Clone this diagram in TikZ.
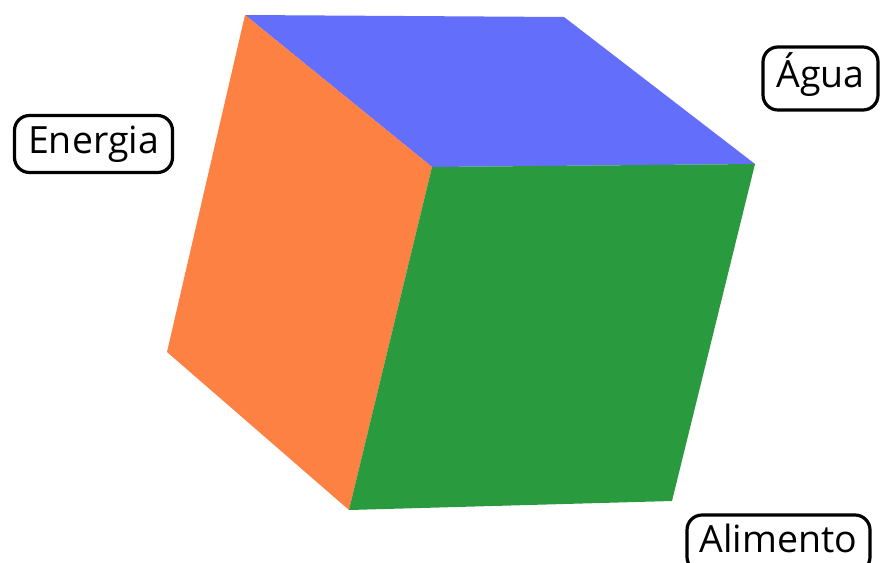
\documentclass[tikz,border=0pt]{standalone}
\usepackage{fontspec}
\setmainfont{Open Sans}
\begin{document}
\begin{tikzpicture}[x=1pt,y=-1pt,
  lbl/.style={draw=black, line width=3.2pt, rounded corners=15pt, inner sep=0pt, text height=27pt, text depth=9pt, font=\fontsize{37.5}{40}\selectfont, text=black}]
\definecolor{topblue}{HTML}{636EFA}
\definecolor{sideorange}{HTML}{FC8142}
\definecolor{frontgreen}{HTML}{2A9A3F}
\useasboundingbox (0,0) rectangle (880,562);
\clip (0,0) rectangle (880,562);
\coordinate (A) at (245,15);
\coordinate (B) at (564,17);
\coordinate (C) at (755,164);
\coordinate (D) at (432,167);
\coordinate (E) at (167,352);
\coordinate (F) at (349,510);
\coordinate (G) at (672,501);
\fill[topblue] (A) -- (B) -- (C) -- (D) -- cycle;
\fill[sideorange] (A) -- (D) -- (F) -- (E) -- cycle;
\fill[frontgreen] (D) -- (C) -- (G) -- (F) -- cycle;
\node[lbl, minimum width=158pt, minimum height=57pt] (energia) at (93.5,144) {Energia};
\node[lbl, minimum width=115pt, minimum height=63pt] (agua) at (820.5,78.5) {Água};
\node[lbl, minimum width=183pt, minimum height=57pt] (alimento) at (778.5,543.5) {Alimento};
\end{tikzpicture}
\end{document}
